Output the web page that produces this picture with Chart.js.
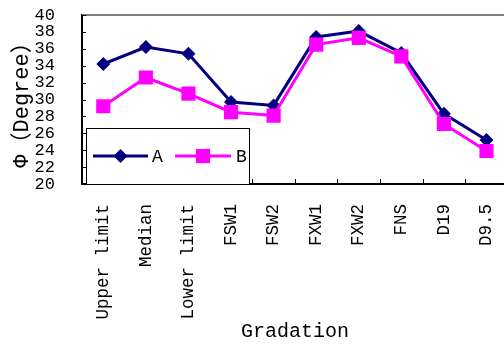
<!DOCTYPE html>
<html>
<head>
<meta charset="utf-8">
<script src="https://cdn.jsdelivr.net/npm/chart.js@4/dist/chart.umd.min.js"></script>
<style>
  html, body { margin: 0; padding: 0; background: #fff; overflow: hidden; }
  #wrap { width: 520px; height: 347px; }
</style>
</head>
<body>
<div id="wrap"><canvas id="c" width="520" height="347"></canvas></div>
<script>
// Gradation categories along the x axis
const categories = ['Upper limit', 'Median', 'Lower limit', 'FSW1', 'FSW2', 'FXW1', 'FXW2', 'FNS', 'D19', 'D9.5'];
// Friction angle Φ (degree) for the two series
const seriesA = [34.2, 36.2, 35.4, 29.7, 29.3, 37.4, 38.1, 35.5, 28.3, 25.2];
const seriesB = [29.2, 32.6, 30.7, 28.5, 28.1, 36.5, 37.3, 35.1, 27.1, 23.9];
// Y axis tick values
const yTicks = [20, 22, 24, 26, 28, 30, 32, 34, 36, 38, 40];

const FONT = '"Liberation Mono", "Noto Sans CJK SC", monospace';
const NAVY = '#000080';
const MAGENTA = '#FF00FF';

// Frame, inward tick marks and the boxed legend
const decorations = {
  id: 'decorations',
  afterDatasetsDraw(chart) {
    const ctx = chart.ctx;
    const a = chart.chartArea;
    const y = chart.scales.y;
    ctx.save();
    // grey top edge of the plot area
    ctx.strokeStyle = '#808080';
    ctx.lineWidth = 2;
    ctx.beginPath();
    ctx.moveTo(a.left, a.top);
    ctx.lineTo(a.right + 5, a.top);
    ctx.stroke();
    // inward ticks on the y axis
    ctx.strokeStyle = '#000';
    ctx.lineWidth = 1;
    yTicks.forEach(v => {
      const py = Math.round(y.getPixelForValue(v)) + 0.5;
      ctx.beginPath();
      ctx.moveTo(a.left, py);
      ctx.lineTo(a.left + 4, py);
      ctx.stroke();
    });
    // inward ticks on the x axis at category boundaries
    const step = (a.right - a.left) / categories.length;
    for (let i = 0; i <= categories.length; i++) {
      const px = Math.round(a.left + i * step) + 0.5;
      ctx.beginPath();
      ctx.moveTo(px, a.bottom);
      ctx.lineTo(px, a.bottom - 5);
      ctx.stroke();
    }
    // legend box
    const bx = 86, by = 128, bw = 163, bh = 56;
    ctx.fillStyle = '#fff';
    ctx.fillRect(bx, by, bw, bh);
    ctx.strokeStyle = '#000';
    ctx.lineWidth = 1;
    ctx.strokeRect(bx + 0.5, by + 0.5, bw, bh);
    const ly = 156;
    const items = [
      { ds: chart.data.datasets[1], x0: 93, x1: 148, tx: 152 },
      { ds: chart.data.datasets[0], x0: 175, x1: 231, tx: 236 }
    ];
    items.forEach(it => {
      ctx.strokeStyle = it.ds.borderColor;
      ctx.lineWidth = 3;
      ctx.beginPath();
      ctx.moveTo(it.x0, ly);
      ctx.lineTo(it.x1, ly);
      ctx.stroke();
      ctx.fillStyle = it.ds.pointBackgroundColor;
      Chart.helpers.drawPoint(ctx, {
        pointStyle: it.ds.pointStyle,
        radius: it.ds.pointRadius,
        rotation: 0,
        borderWidth: 0
      }, (it.x0 + it.x1) / 2, ly);
      ctx.fillStyle = '#000';
      ctx.font = '18px ' + FONT;
      ctx.textBaseline = 'middle';
      ctx.textAlign = 'left';
      ctx.fillText(it.ds.label, it.tx, ly + 1);
    });
    ctx.restore();
  }
};

new Chart(document.getElementById('c'), {
  type: 'line',
  data: {
    labels: categories,
    datasets: [
      {
        label: 'B',
        data: seriesB,
        borderColor: MAGENTA,
        backgroundColor: MAGENTA,
        borderWidth: 3,
        pointStyle: 'rect',
        pointRadius: 10,
        pointBorderWidth: 0,
        pointBackgroundColor: MAGENTA,
        tension: 0,
        order: 0
      },
      {
        label: 'A',
        data: seriesA,
        borderColor: NAVY,
        backgroundColor: NAVY,
        borderWidth: 3,
        pointStyle: 'rectRot',
        pointRadius: 7,
        pointBorderWidth: 0,
        pointBackgroundColor: NAVY,
        tension: 0,
        order: 1
      }
    ]
  },
  options: {
    responsive: false,
    animation: false,
    devicePixelRatio: 1,
    layout: { padding: { top: 15, right: 3, left: 0, bottom: 0 } },
    plugins: {
      legend: { display: false },
      tooltip: { enabled: false }
    },
    scales: {
      x: {
        type: 'category',
        offset: true,
        grid: { display: false },
        border: { display: true, color: '#000', width: 2 },
        ticks: {
          autoSkip: false,
          maxRotation: 90,
          minRotation: 90,
          padding: 12,
          color: '#000',
          font: { family: FONT, size: 17.5 }
        },
        title: {
          display: true,
          text: 'Gradation',
          color: '#000',
          font: { family: FONT, size: 20 },
          padding: { top: 0, bottom: 3 }
        },
        afterFit(scale) { scale.height = 163; }
      },
      y: {
        min: 20,
        max: 40,
        grid: { display: false },
        border: { display: true, color: '#000', width: 2 },
        afterBuildTicks(scale) { scale.ticks = yTicks.map(v => ({ value: v })); },
        ticks: {
          autoSkip: false,
          padding: 19,
          color: '#000',
          font: { family: FONT, size: 17, lineHeight: 1 }
        },
        title: {
          display: true,
          text: 'Φ（Degree）',
          color: '#000',
          font: { family: FONT, size: 22 },
          padding: { top: 9, bottom: 0 }
        },
        afterFit(scale) {
          scale.width = 82;
          scale.paddingTop = 0;
          scale.paddingBottom = 0;
        }
      }
    }
  },
  plugins: [decorations]
});
</script>
</body>
</html>
